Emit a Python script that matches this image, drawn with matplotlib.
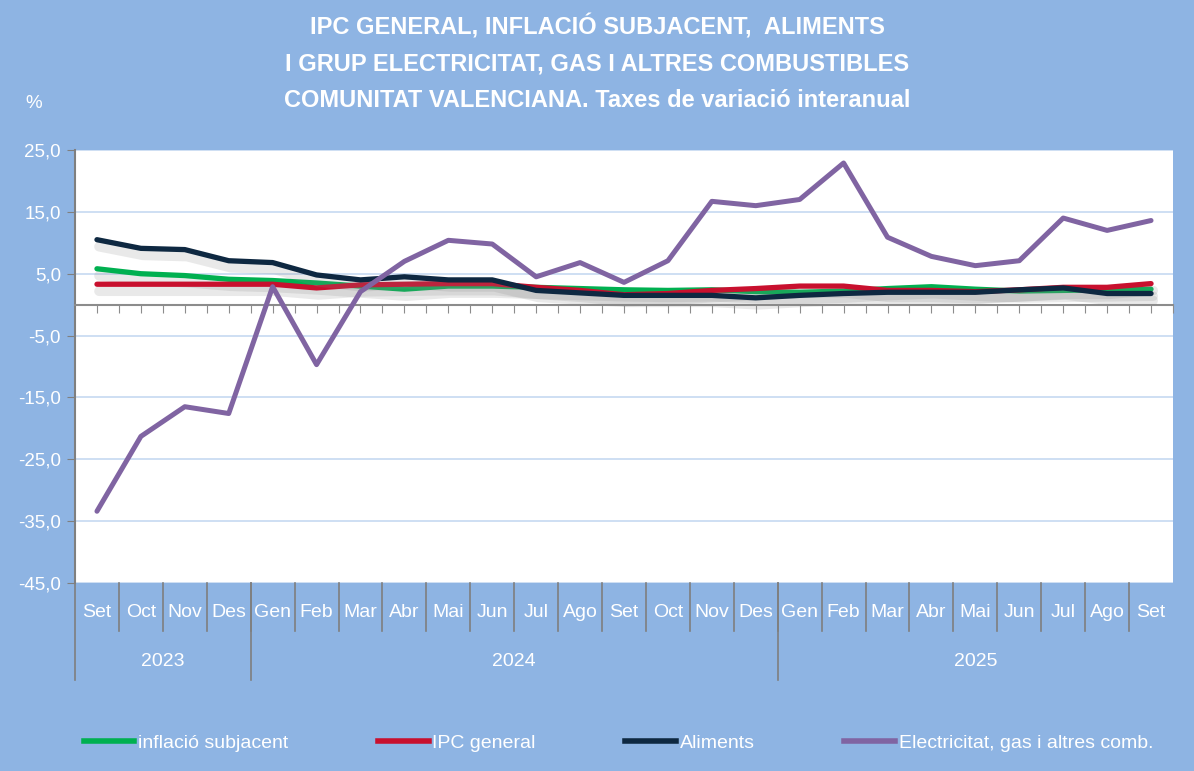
import matplotlib
matplotlib.use('Agg')
import numpy as np
import matplotlib.pyplot as plt
import matplotlib.patheffects as pe
from matplotlib.lines import Line2D
from matplotlib.transforms import blended_transform_factory

plt.rcParams['font.family'] = ['Liberation Sans', 'DejaVu Sans']

months = ['Set', 'Oct', 'Nov', 'Des', 'Gen', 'Feb', 'Mar', 'Abr', 'Mai', 'Jun', 'Jul', 'Ago',
          'Set', 'Oct', 'Nov', 'Des', 'Gen', 'Feb', 'Mar', 'Abr', 'Mai', 'Jun', 'Jul', 'Ago', 'Set']
years = ['2023', '2024', '2025']
year_spans = [(0, 3), (4, 15), (16, 24)]

subjacent = [5.8, 5.0, 4.7, 4.1, 3.9, 3.5, 3.0, 2.5, 3.0, 3.0, 2.8, 2.6,
             2.4, 2.3, 2.4, 2.1, 2.0, 2.2, 2.6, 2.9, 2.5, 2.2, 2.3, 2.4, 2.5]
ipc = [3.3, 3.3, 3.3, 3.3, 3.3, 2.7, 3.2, 3.3, 3.4, 3.4, 2.8, 2.3,
       1.6, 1.8, 2.3, 2.6, 3.0, 3.0, 2.3, 2.3, 2.1, 2.4, 2.8, 2.8, 3.4]
aliments = [10.5, 9.1, 8.9, 7.1, 6.8, 4.8, 4.0, 4.5, 4.0, 4.0, 2.3, 1.9,
            1.5, 1.5, 1.5, 1.1, 1.5, 1.8, 2.0, 2.0, 2.0, 2.4, 2.7, 1.8, 1.8]
electricitat = [-33.4, -21.3, -16.5, -17.6, 2.9, -9.7, 2.1, 7.0, 10.4, 9.8, 4.5, 6.8,
                3.6, 7.1, 16.7, 16.0, 17.0, 22.9, 10.9, 7.8, 6.3, 7.1, 14.0, 12.0, 13.6]

colors = ['#00B050', '#C8102E', '#0E2841', '#8064A2']
labels = ['inflació subjacent', 'IPC general', 'Aliments', 'Electricitat, gas i altres comb.']

bg = '#8EB4E3'
fig = plt.figure(figsize=(11.94, 7.71), dpi=100, facecolor=bg)
ax = fig.add_axes([75/1194, 1-583/771, (1173-75)/1194, (583-150)/771])
ax.set_facecolor('white')

x = np.arange(len(months))
shadow = [pe.SimpleLineShadow(offset=(1.5, -5), shadow_color='#888888', alpha=0.18, linewidth=7),
          pe.Normal()]
ax.plot(x, subjacent, color=colors[0], lw=3.8, solid_capstyle='round', path_effects=shadow, zorder=3)
ax.plot(x, ipc, color=colors[1], lw=3.8, solid_capstyle='round', path_effects=shadow, zorder=4)
ax.plot(x, aliments, color=colors[2], lw=3.8, solid_capstyle='round', path_effects=shadow, zorder=5)
ax.plot(x, electricitat, color=colors[3], lw=3.6, solid_capstyle='round', zorder=6)

ax.set_xlim(-0.5, 24.5)
ax.set_ylim(-45, 25)
yt = np.arange(-45, 26, 10)
ax.set_yticks(yt)
ax.set_yticklabels([f'{v:.1f}'.replace('.', ',') for v in yt], color='white', fontsize=13.5)
ax.tick_params(axis='y', length=6, color='#7F7F7F', pad=4)
for v in yt:
    ax.axhline(v, color='#C6D9F1', lw=1.2, zorder=1)

for s in ['top', 'right']:
    ax.spines[s].set_visible(False)
ax.spines['left'].set_color('#7F7F7F')
ax.spines['left'].set_linewidth(1.5)
ax.spines['bottom'].set_position(('data', 0))
ax.spines['bottom'].set_color('#8C8C8C')
ax.spines['bottom'].set_linewidth(1.5)
ax.set_xticks(np.arange(0, 24.51, 0.5))
ax.set_xticklabels([])
ax.tick_params(axis='x', length=6, color='#8C8C8C', direction='out')

tr = blended_transform_factory(ax.transData, ax.transAxes)
for i, m in enumerate(months):
    ax.text(i, -0.069, m, transform=tr, ha='center', va='center', color='white', fontsize=14)
for b in np.arange(0.5, 24, 1):
    ax.plot([b, b], [0, -0.11], transform=tr, color='#7F7F7F', lw=1.2, clip_on=False)
for (a, b), yr in zip(year_spans, years):
    ax.text((a + b) / 2, -0.182, yr, transform=tr, ha='center', va='center', color='white', fontsize=14)
for b in [-0.5, 3.5, 15.5]:
    ax.plot([b, b], [0, -0.225], transform=tr, color='#7F7F7F', lw=1.2, clip_on=False)

title = ('IPC GENERAL, INFLACIÓ SUBJACENT,  ALIMENTS\n'
         'I GRUP ELECTRICITAT, GAS I ALTRES COMBUSTIBLES\n'
         'COMUNITAT VALENCIANA. Taxes de variació interanual')
fig.text(0.5, 1-63/771, title, ha='center', va='center', color='white', fontsize=17,
         fontweight='bold', linespacing=1.75)
fig.text(25/1194, 1-103/771, '%', ha='left', va='center', color='white', fontsize=13.5)

handles = [Line2D([], [], color=c, lw=4) for c in colors]
leg = fig.legend(handles, labels, loc='center', bbox_to_anchor=(0.518, 1-743/771), ncol=4,
                 frameon=False, fontsize=14, handlelength=2.6, handletextpad=0.2,
                 columnspacing=4.6, labelcolor='white')

fig.savefig('out.png', dpi=100, facecolor=bg)
